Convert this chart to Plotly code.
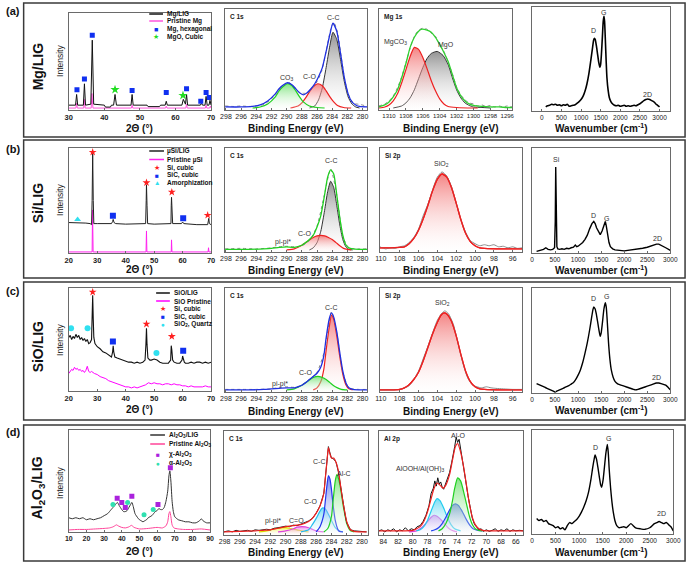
import plotly.graph_objects as go

W, H = 696, 564
def PX(x): return x / W
def PY(y): return 1 - y / H

# ======================= DATA =======================
# ---- tick labels ----
XRD_A_TICKS = [30, 40, 50, 60, 70]
XRD_BC_TICKS = [20, 30, 40, 50, 60, 70]
XRD_D_TICKS = [10, 20, 30, 40, 50, 60, 70, 80, 90]
C1S_TICKS = [298, 296, 294, 292, 290, 288, 286, 284, 282, 280]
MG1S_TICKS = [1310, 1308, 1306, 1304, 1302, 1300, 1298, 1296]
SI2P_TICKS = [110, 108, 106, 104, 102, 100, 98, 96]
AL2P_TICKS = [84, 82, 80, 78, 76, 74, 72, 70, 68, 66]
RAMAN_TICKS = [0, 500, 1000, 1500, 2000, 2500, 3000]

# ---- (a) Mg/LIG ----
A1_LIG = [(30, 5), (31.9, 5), (32.2, 16), (32.5, 5), (34.1, 5), (34.4, 27), (34.7, 5), (36.2, 6), (36.6, 72),
          (37.0, 6), (40.0, 5), (40.3, 3), (41.7, 3), (42.0, 5), (42.6, 5), (43.0, 16), (43.4, 5), (47.5, 5),
          (47.8, 16), (48.1, 5), (52.0, 5), (52.3, 3.5), (55.5, 3.5), (55.8, 5), (57.1, 5), (57.4, 9), (57.7, 5),
          (61.8, 5), (62.2, 11), (62.6, 6), (62.8, 6), (63.1, 16), (63.4, 5), (67.0, 5), (67.3, 7), (67.6, 5),
          (68.3, 5), (68.6, 14), (68.9, 5), (69.4, 5), (69.7, 10), (70.0, 5)]
A1_PRIS = [(30, 2), (32.0, 2), (32.2, 7), (32.4, 2), (34.2, 2), (34.4, 11), (34.6, 2), (36.3, 2), (36.5, 17),
           (36.8, 2), (47.6, 2), (47.8, 5), (48.0, 2), (57.2, 2), (57.4, 4), (57.6, 2), (62.9, 2), (63.1, 6),
           (63.3, 2), (68.4, 2), (68.6, 5), (68.8, 2), (69.6, 2), (69.8, 4), (70, 2)]
A1_MG_X = [32.3, 34.4, 36.6, 47.8, 57.4, 63.1, 67.1, 68.6, 69.5]
A1_MG_Y = [21, 32, 77, 20, 18, 22, 9, 18, 13]
A1_MGO_X = [43.0, 62.1]
A1_MGO_Y = [21, 15]

A2_CO3 = [(294.5, 2), (293.5, 3), (292.5, 6), (291.5, 13), (291, 19), (290.5, 23), (289.9, 26), (289.3, 24),
          (288.8, 19), (288.3, 13), (287.8, 8), (287, 4), (286, 2.5), (285, 2)]
A2_CO = [(289.5, 2), (288.5, 4), (288, 7), (287.5, 12), (287, 18), (286.5, 23), (285.9, 26), (285.3, 24),
         (284.8, 19), (284.3, 13), (283.8, 8), (283.3, 4.5), (282.5, 2.5), (281.5, 2)]
A2_CC = [(287, 2), (286.3, 4), (285.8, 10), (285.3, 22), (284.8, 42), (284.3, 64), (283.9, 77), (283.4, 70),
         (282.9, 50), (282.4, 28), (281.9, 13), (281.4, 6), (280.9, 3), (280.4, 2)]
A2_ENV = [(298.1, 3), (296, 3), (294.5, 3.5), (293.5, 5), (292.5, 9), (291.5, 16), (291, 21), (290.5, 24.5),
          (289.9, 27), (289.3, 25), (288.8, 21), (288.3, 17), (287.8, 15), (287.3, 17), (286.8, 21), (286.3, 26),
          (285.8, 33), (285.3, 42), (284.8, 58), (284.3, 75), (283.9, 86), (283.4, 78), (282.9, 56), (282.4, 32),
          (281.9, 16), (281.4, 8), (280.9, 5), (280.4, 3.5), (279.4, 3)]
A2_DATA = [(298.1, 4), (297, 3.5), (296, 4), (295, 3.5), (294, 4), (293, 5.5), (292, 11), (291, 20), (290.3, 25),
           (289.7, 27), (289, 23), (288.4, 18), (287.8, 16.5), (287.2, 17), (286.6, 22), (286, 28), (285.4, 38),
           (284.8, 58), (284.2, 80), (283.8, 87), (283.3, 77), (282.8, 52), (282.3, 28), (281.8, 14), (281.3, 8),
           (280.8, 6), (280.3, 5.5), (279.8, 4.5), (279.4, 4)]

A3_MGCO3 = [(1311.2, 2), (1310.5, 3), (1310, 5), (1309.5, 9), (1309, 16), (1308.5, 27), (1308, 40), (1307.5, 53),
            (1307, 62), (1306.5, 60), (1306, 52), (1305.5, 41), (1305, 29), (1304.5, 19), (1304, 11), (1303.5, 6),
            (1303, 3.5), (1302, 2.5), (1300, 2), (1299.5, 2)]
A3_MGO = [(1309.5, 2), (1308.5, 4), (1308, 7), (1307.5, 12), (1307, 20), (1306.5, 31), (1306, 42), (1305.5, 51),
          (1305, 56), (1304.3, 58), (1303.6, 54), (1303, 45), (1302.5, 32), (1302, 20), (1301.5, 12), (1301, 7),
          (1300.5, 4.5), (1300, 3), (1299, 2.5), (1298, 2)]
A3_ENV = [(1311.2, 3), (1310.5, 5), (1310, 8), (1309.5, 13), (1309, 20), (1308.5, 32), (1308, 46), (1307.5, 62),
          (1307, 72), (1306.5, 78), (1306.1, 80), (1305.5, 79), (1305, 77), (1304.5, 72), (1304, 65), (1303.5, 57),
          (1303, 48), (1302.5, 35), (1302, 22), (1301.5, 14), (1301, 9), (1300.5, 6), (1300, 4.5), (1299, 3.5),
          (1298, 3), (1297, 3), (1296, 2.5), (1295.4, 2.5)]
A3_DATA = [(1311.2, 4), (1310.5, 6), (1310, 9), (1309.5, 14), (1309, 22), (1308.5, 33), (1308, 47), (1307.5, 61),
           (1307, 73), (1306.5, 79), (1306, 81), (1305.5, 80), (1305, 76), (1304.5, 73), (1304, 64), (1303.5, 58),
           (1303, 47), (1302.5, 36), (1302, 23), (1301.5, 15), (1301, 10), (1300.5, 7), (1300, 6), (1299.5, 4),
           (1299, 5), (1298.5, 3.5), (1298, 4.5), (1297.5, 3), (1297, 4), (1296.5, 3), (1296, 4), (1295.4, 3)]

A4_RAMAN = [(100, 4), (150, 5), (200, 5.5), (250, 6.5), (300, 6), (350, 6.5), (400, 5.5), (450, 6), (500, 5),
            (550, 6), (600, 5.5), (650, 6.5), (700, 4.5), (750, 5), (800, 5.5), (850, 6), (900, 7.5), (950, 9),
            (1000, 11), (1050, 14), (1100, 19), (1150, 26), (1200, 36), (1250, 49), (1290, 60), (1320, 68),
            (1340, 70), (1360, 69), (1390, 63), (1420, 55), (1450, 47), (1480, 42), (1500, 45), (1520, 55),
            (1545, 72), (1565, 86), (1585, 91), (1600, 86), (1620, 68), (1640, 48), (1660, 32), (1690, 20),
            (1720, 13), (1760, 9), (1800, 7), (1850, 5.5), (1900, 5), (1950, 5.5), (2000, 4.5), (2050, 5),
            (2100, 5.5), (2150, 4.5), (2200, 5), (2250, 4.5), (2300, 5), (2350, 5.5), (2400, 5), (2450, 6),
            (2500, 7), (2550, 8.5), (2600, 10), (2650, 11), (2700, 11.5), (2750, 11), (2800, 10), (2850, 9),
            (2900, 7), (2950, 5.5), (3000, 4)]

# ---- (b) Si/LIG ----
B1_LIG = [(20, 29), (22, 29), (24, 28.5), (26, 28.5), (27.5, 28), (28.0, 27), (28.2, 50), (28.4, 95), (28.6, 50),
          (28.8, 28), (30, 28), (33, 28), (35, 28), (35.4, 30), (35.6, 32), (35.9, 29), (36.5, 28), (40, 27.5),
          (45, 27.5), (47.0, 28), (47.2, 50), (47.3, 65), (47.5, 45), (47.7, 28), (50, 27.5), (55, 27.5),
          (55.9, 28), (56.0, 45), (56.1, 53), (56.3, 40), (56.5, 28), (59.6, 28), (60, 29.5), (60.4, 28),
          (65, 27), (68.8, 27), (69.0, 31), (69.2, 33), (69.4, 28), (70, 27)]
B1_PRIS = [(20, 1), (28.2, 1), (28.35, 41), (28.55, 1), (47.15, 1), (47.3, 21), (47.45, 1), (56.0, 1),
           (56.1, 12.5), (56.25, 1), (68.95, 1), (69.1, 5), (69.25, 1), (70, 1)]
B1_SI_X = [28.4, 47.3, 56.2, 68.8]
B1_SI_Y = [96, 67, 58, 36]
B1_SIC_X = [35.5, 60.2]
B1_SIC_Y = [35.5, 33]
B1_AM_X = [23.1]
B1_AM_Y = [32]

B2_CC = [(287, 2), (286.5, 4), (286, 9), (285.5, 20), (285, 40), (284.6, 58), (284.2, 68), (283.8, 62),
         (283.4, 45), (283, 26), (282.6, 12), (282.2, 5), (281.8, 2.5), (281.3, 2)]
B2_CO = [(290, 2), (289, 3), (288.5, 4.5), (288, 6.5), (287.5, 9), (287, 11.5), (286.5, 14), (286, 15.5),
         (285.5, 16), (285, 15.5), (284.5, 14), (284, 12), (283.5, 9), (283, 6), (282.5, 3.5), (282, 2.5),
         (281.5, 2)]
B2_ENV = [(298.1, 2.5), (295, 2.5), (293, 3), (292, 3.5), (291, 4.5), (290, 5), (289, 4.5), (288, 6.5),
          (287.5, 9), (287, 12), (286.5, 16), (286, 24), (285.5, 35), (285, 55), (284.6, 72), (284.2, 79),
          (283.8, 75), (283.4, 55), (283, 33), (282.6, 16), (282.2, 7), (281.8, 4), (281.3, 3), (280.5, 2.5),
          (279.4, 2.5)]
B2_DATA = [(298.1, 3), (296, 3.5), (294, 3), (292, 4), (291, 5), (290, 5.5), (289, 5), (288, 6), (287, 11),
           (286, 25), (285, 56), (284.2, 80), (283.4, 55), (282.6, 15), (281.8, 4), (280.5, 3), (279.4, 3)]

B3_SIO2 = [(110.1, 4), (109, 4), (108, 4.5), (107.5, 5), (107, 8), (106.5, 13), (106, 21), (105.5, 32),
           (105, 45), (104.5, 59), (104, 70), (103.5, 75), (103, 72), (102.5, 62), (102, 47), (101.5, 31),
           (101, 18), (100.5, 10), (100, 6), (99.5, 4), (99, 3.5), (97, 3), (95, 3)]
B3_DATA = [(110.1, 5), (109.5, 3), (109, 4), (108.5, 3.5), (108, 5), (107.5, 6), (107, 9), (106.5, 14),
           (106, 22), (105.5, 35), (105, 46), (104.5, 60), (104, 72), (103.5, 77), (103, 73), (102.5, 63),
           (102, 47), (101.5, 31), (101, 19), (100.5, 11), (100, 8), (99.5, 6), (99, 7), (98.5, 6), (98, 7),
           (97.5, 5), (97, 5.5), (96.5, 4), (96, 5), (95.5, 3.5), (95, 4)]

B4_RAMAN = [(100, 1.5), (150, 2), (200, 2.5), (250, 3.5), (300, 5), (350, 3.5), (400, 3), (450, 3.5), (490, 5),
            (505, 30), (515, 82), (525, 35), (540, 6), (560, 4), (600, 3.5), (650, 4), (700, 3.5), (750, 4.5),
            (800, 4), (850, 5), (900, 5.5), (940, 7.5), (970, 6), (1000, 6.5), (1050, 8), (1100, 10),
            (1150, 13), (1200, 17), (1250, 23), (1300, 28), (1340, 30), (1370, 28), (1400, 24), (1440, 20),
            (1480, 17.5), (1520, 21), (1560, 27), (1590, 30), (1610, 26), (1640, 17), (1670, 10), (1700, 6),
            (1750, 4), (1800, 3), (1850, 3), (1900, 2.5), (2000, 2), (2100, 2.5), (2200, 3), (2300, 3.5),
            (2400, 4.5), (2500, 5.5), (2600, 7), (2700, 8.5), (2750, 8.5), (2800, 7.5), (2900, 5), (3000, 2.5)]

# ---- (c) SiO/LIG ----
C1_LIG = [(20, 52), (20.5, 54), (21, 50), (21.5, 53), (22, 51), (22.5, 55), (23, 52), (23.5, 54), (24, 50),
          (24.5, 52), (25, 49), (25.5, 51), (26, 48), (26.5, 50), (27, 46), (27.5, 47), (28, 50), (28.2, 70),
          (28.4, 93), (28.6, 70), (28.8, 52), (29.2, 46), (30, 43), (31, 41), (32, 38), (33, 37), (34, 35),
          (35, 33), (35.4, 38), (35.6, 44), (35.8, 38), (36.2, 33), (37, 32), (38, 31), (39, 30), (40, 29),
          (41, 28), (42, 28), (43, 27), (44, 28), (45, 27), (46, 28), (46.8, 30), (47.1, 45), (47.3, 61),
          (47.5, 45), (47.8, 32), (48.5, 30), (49, 30), (50, 31), (51, 30), (52, 28), (53, 27), (54, 27),
          (55, 27), (55.8, 30), (56.0, 44), (56.2, 40), (56.5, 30), (57, 28), (58, 27), (59, 27), (59.8, 30),
          (60, 34), (60.2, 32), (60.6, 28), (61, 27), (62, 27), (63, 28), (64, 27), (65, 28), (66, 28),
          (67, 27), (68, 28), (69, 27), (70, 28)]
C1_PRIS = [(20, 17), (20.5, 19), (21, 21), (21.5, 20), (22, 23), (22.5, 21), (23, 22), (23.5, 20), (24, 21),
           (24.5, 19), (25, 20), (25.5, 18), (26, 20), (26.5, 24), (27, 19), (27.5, 18), (28, 19), (29, 17),
           (30, 16), (31, 14), (32, 13), (33, 12), (34, 10), (35, 9), (36, 8), (37, 7), (38, 6), (39, 5),
           (40, 4), (41, 4), (42, 3), (43, 4), (44, 3), (45, 4), (46, 5), (47, 6), (48, 8), (49, 7), (50, 8),
           (51, 7), (52, 7), (53, 6), (54, 7), (55, 7), (56, 6), (57, 7), (58, 6), (59, 6), (60, 5), (61, 5),
           (62, 4), (63, 5), (64, 4), (65, 4), (66, 4), (67, 4), (68, 5), (69, 4), (70, 4)]
C1_SI_X = [28.4, 47.3, 56.2]
C1_SI_Y = [96, 65, 53]
C1_SIC_X = [35.5, 60.2]
C1_SIC_Y = [48, 39]
C1_QZ_X = [20.8, 26.6, 50.8]
C1_QZ_Y = [61, 61, 37]

C2_CC = [(286.5, 2), (286, 4), (285.5, 10), (285.1, 22), (284.8, 40), (284.4, 62), (284.1, 74), (283.8, 70),
         (283.4, 54), (283, 34), (282.6, 17), (282.2, 7), (281.8, 3), (281.3, 2)]
C2_CO = [(290, 2), (289, 3), (288.5, 4.5), (288, 6.5), (287.5, 9), (287, 11.5), (286.5, 14), (285.9, 15),
         (285.3, 14), (284.8, 12), (284.3, 9), (283.8, 6), (283.3, 4), (282.8, 2.5), (282, 2)]
C2_ENV = [(298.1, 2), (295, 2), (293, 2.5), (292, 3), (291, 3.5), (290, 4), (289, 4), (288, 6.5), (287.5, 9),
          (287, 12), (286.5, 15), (286, 18), (285.5, 24), (285.1, 35), (284.8, 52), (284.4, 70), (284.1, 76),
          (283.8, 72), (283.4, 58), (283, 38), (282.6, 20), (282.2, 9), (281.8, 4), (281.3, 2.5), (280, 2),
          (279.4, 2)]
C2_DATA = [(298.1, 2.5), (296, 2.5), (294, 2.5), (292, 3), (291, 4.5), (290, 5), (289, 4.5), (288, 6.5),
           (287, 12), (286, 19), (285, 40), (284.1, 77), (283.4, 57), (282.6, 19), (281.8, 4), (280.5, 2.5),
           (279.4, 2.5)]

C3_SIO2 = [(110.1, 2), (109, 2), (108, 2.5), (107.5, 4), (107, 7), (106.5, 12), (106, 19), (105.5, 30),
           (105, 43), (104.5, 56), (104, 67), (103.6, 74), (103.3, 76), (103, 75), (102.5, 68), (102, 54),
           (101.5, 36), (101, 20), (100.5, 10), (100, 5), (99.5, 3), (99, 2.5), (97, 2), (95, 2)]
C3_DATA = [(110.1, 2), (108, 2.5), (107, 6), (106, 20), (105.5, 32), (105, 44), (104.5, 57), (104, 69),
           (103.5, 76), (103.2, 78), (102.8, 75), (102.3, 65), (101.8, 47), (101.3, 28), (100.8, 14),
           (100.3, 7), (99.8, 5), (99.3, 4), (98.8, 5), (98.3, 4), (97.8, 3.5), (97, 3), (96, 2.5), (95, 2.5)]

C4_RAMAN = [(100, 9), (150, 8), (200, 7), (250, 6), (300, 5), (350, 4), (400, 3), (450, 2), (500, 1), (550, 2),
            (600, 3), (650, 4), (700, 5), (750, 6), (800, 7), (850, 8.5), (900, 10), (950, 13), (1000, 17),
            (1050, 22), (1100, 29), (1150, 38), (1200, 48), (1250, 60), (1290, 71), (1320, 79), (1340, 82),
            (1370, 80), (1400, 74), (1430, 66), (1460, 58), (1480, 54), (1500, 57), (1530, 68), (1560, 80),
            (1590, 86), (1610, 82), (1630, 70), (1660, 48), (1690, 32), (1720, 22), (1760, 15), (1800, 11),
            (1850, 9), (1900, 8), (2000, 6.5), (2100, 5), (2200, 3.5), (2250, 3), (2300, 3.5), (2400, 5),
            (2500, 6.5), (2600, 8), (2700, 9.5), (2750, 9.5), (2800, 9), (2900, 7.5), (2950, 5.5), (3000, 3)]

# ---- (d) Al2O3/LIG ----
D1_LIG = [(10, 14), (12, 13), (14, 14), (16, 13), (18, 14), (20, 12), (22, 13), (24, 12), (26, 13), (28, 14),
          (30, 16), (32, 18), (34, 22), (35, 24), (36, 26), (37.5, 29), (38.5, 26), (40, 22), (41, 20), (42, 20),
          (43, 21), (44, 24), (45, 27), (45.7, 29), (46.5, 25), (47.5, 18), (49, 14), (50, 12), (51, 11),
          (52, 10), (53, 11), (54, 12), (55, 14), (56, 15), (57, 16), (58, 18), (59, 20), (60, 21), (61, 23),
          (62, 22), (63, 22), (64, 24), (65, 30), (66, 40), (66.7, 55), (67.2, 60), (67.8, 50), (68.5, 30),
          (69.2, 20), (70, 15), (72, 12), (74, 11), (76, 10), (78, 10), (80, 9), (82, 9), (84, 11), (85, 13),
          (86, 11), (88, 9), (90, 9)]
D1_PRIS = [(10, 2), (15, 2.5), (20, 2.5), (25, 3), (30, 3.5), (33, 4), (35, 5), (36, 6), (37, 7), (38, 6),
           (40, 4.5), (42, 4), (44, 5), (45.5, 6.5), (47, 4.5), (50, 3), (55, 3.5), (60, 4.5), (63, 4), (65, 6),
           (66, 10), (66.7, 18), (67.2, 20), (67.8, 15), (68.5, 7), (69.5, 4), (72, 3), (75, 2.5), (80, 2.5),
           (85, 3), (90, 2)]
D1_CHI_X = [37.4, 40.0, 42.0, 45.7, 60.5, 67.5]
D1_CHI_Y = [33, 29, 24, 35, 27, 63]
D1_ALPHA_X = [35.0, 43.3, 52.6, 57.8]
D1_ALPHA_Y = [27, 29, 17, 22]

D2_CC = [(286, 3), (285.5, 8), (285, 20), (284.8, 33), (284.6, 47), (284.4, 57), (284.2, 54), (284, 44),
         (283.8, 30), (283.5, 14), (283.2, 6), (283, 3.5), (282.5, 3)]
D2_ALC = [(285, 3), (284.5, 6), (284, 18), (283.8, 32), (283.5, 52), (283.3, 58), (283, 52), (282.7, 40),
          (282.5, 30), (282.2, 18), (282, 11), (281.5, 4), (281, 3)]
D2_CO = [(288, 3), (287, 5), (286.5, 10), (286, 16), (285.5, 23), (285.2, 26), (284.8, 25), (284.4, 20),
         (284, 14), (283.5, 7), (283, 4), (282.5, 3)]
D2_CEO = [(291, 3), (290, 4), (289, 6), (288.5, 7.5), (287.8, 8), (287, 7), (286.5, 5.5), (286, 4), (285, 3)]
D2_PI = [(293.5, 3), (292.5, 4), (291.5, 6), (290.5, 7), (290, 7), (289.5, 6.5), (288.5, 5), (287.5, 3.5),
         (287, 3)]
D2_ENV = [(298.1, 3), (296, 3.5), (294, 4), (293, 4.5), (292, 5), (291, 6.5), (290, 8), (289, 9), (288, 10),
          (287, 13), (286.5, 16), (286, 21), (285.5, 28), (285, 40), (284.8, 55), (284.6, 70), (284.4, 84),
          (284.2, 78), (284, 74), (283.7, 74), (283.4, 70), (283.1, 62), (282.8, 47), (282.5, 32), (282.2, 20),
          (282, 13), (281.5, 5), (281, 3.5), (280, 3), (279.4, 3)]
D2_DATA = [(298.1, 3), (297.5, 4), (297, 3), (296.5, 4.5), (296, 3.5), (295.5, 4), (295, 4.5), (294.5, 3.5),
           (294, 5), (293.5, 4.5), (293, 5), (292.5, 5.5), (292, 5), (291.5, 6.5), (291, 7), (290.5, 7.5),
           (290, 8.5), (289.5, 8), (289, 9.5), (288.5, 9), (288, 10.5), (287.5, 12), (287, 13.5), (286.5, 16),
           (286, 21), (285.5, 28), (285, 40), (284.8, 55), (284.6, 70), (284.4, 85), (284.2, 79), (284, 74),
           (283.7, 73), (283.4, 70), (283.1, 61), (282.8, 46), (282.5, 31), (282.2, 19), (282, 12), (281.5, 5),
           (281, 4), (280.5, 3.5), (280, 3), (279.4, 3)]

D3_MAG = [(80.5, 3), (79.5, 4), (79, 6), (78.5, 9), (78, 13), (77.5, 17), (77.1, 19), (76.7, 18), (76.2, 15),
          (75.7, 11), (75.2, 7), (74.7, 4.5), (74, 3)]
D3_CYAN = [(79.5, 4), (79, 5), (78.5, 8), (78, 14), (77.5, 23), (77, 32), (76.7, 35), (76.3, 33), (75.8, 26),
           (75.3, 17), (74.8, 10), (74.3, 6), (73.5, 4)]
D3_BLUE = [(77.5, 4), (77, 5), (76.5, 7), (76, 11), (75.5, 17), (75, 24), (74.6, 28.5), (74.2, 30),
           (73.8, 28.5), (73.3, 23), (72.8, 16), (72.3, 10), (71.8, 6), (71.2, 4.5), (70.5, 4)]
D3_GREEN = [(76.5, 4), (76, 6), (75.5, 11), (75, 20), (74.6, 33), (74.3, 45), (73.9, 55), (73.5, 52),
            (73.1, 42), (72.7, 30), (72.3, 18), (71.9, 10), (71.5, 6), (71, 4.5), (70.5, 4)]
D3_ENV = [(84.6, 4), (82, 4), (80, 4.5), (79.5, 6), (79, 8), (78.5, 13), (78, 22), (77.5, 35), (77.1, 45),
          (76.7, 50), (76.3, 48), (75.9, 45), (75.5, 48), (75, 58), (74.6, 72), (74.2, 85), (73.9, 88),
          (73.5, 80), (73.1, 66), (72.7, 48), (72.3, 30), (71.9, 17), (71.5, 10), (71, 6), (70.5, 4.5), (70, 4),
          (65, 4)]
D3_DATA = [(84.6, 4), (84.2, 5), (83.8, 3), (83.4, 5), (83, 4), (82.6, 6), (82.2, 3), (81.8, 5), (81.4, 4),
           (81, 7), (80.6, 4), (80.2, 6), (79.8, 5), (79.4, 8), (79, 9), (78.6, 13), (78.2, 19), (77.8, 28),
           (77.5, 40), (77.2, 45), (77, 52), (76.8, 47), (76.6, 55), (76.4, 49), (76.2, 51), (76, 46),
           (75.8, 44), (75.5, 50), (75.2, 55), (75, 60), (74.7, 70), (74.5, 80), (74.3, 85), (74.1, 94),
           (73.9, 89), (73.7, 92), (73.4, 80), (73.1, 68), (72.8, 52), (72.5, 38), (72.2, 26), (71.9, 16),
           (71.6, 10), (71.3, 7), (71, 5), (70.7, 6), (70.4, 3.5), (70, 5), (69.6, 3.5), (69.2, 4.5), (68.8, 6),
           (68.4, 3.5), (68, 5), (67.6, 4), (67.2, 6), (66.8, 3.5), (66.4, 5), (66, 4), (65.5, 4.5), (65, 4)]

D4_RAMAN = [(100, 15), (150, 13), (200, 14), (250, 12), (300, 13), (350, 10), (400, 9), (450, 8), (500, 6),
            (550, 7), (600, 5), (650, 6), (700, 4), (750, 8), (800, 11), (850, 10), (900, 12), (950, 14),
            (1000, 17), (1050, 21), (1100, 26), (1150, 32), (1200, 40), (1250, 52), (1290, 64), (1320, 72),
            (1340, 76), (1370, 72), (1400, 64), (1430, 55), (1460, 47), (1480, 45), (1510, 52), (1540, 65),
            (1570, 78), (1600, 86), (1620, 78), (1640, 62), (1670, 44), (1700, 30), (1730, 20), (1760, 13),
            (1800, 8), (1850, 6), (1900, 6.5), (1950, 7), (2000, 6), (2050, 8), (2100, 10), (2150, 8),
            (2200, 6), (2300, 5), (2400, 4.5), (2500, 6), (2600, 10), (2650, 11), (2700, 12), (2750, 11),
            (2800, 10), (2850, 11), (2900, 9), (2950, 7), (3000, 3)]

# ======================= FIGURE =======================
FONT = "Liberation Sans, Arial, sans-serif"
fig = go.Figure()
shapes, annos = [], []

def ids(n):
    return ("x" if n == 1 else f"x{n}"), ("y" if n == 1 else f"y{n}")

def add_panel(n, l, t, r, b, xr, ticks, tfs=7, bold=False):
    xa = "xaxis" if n == 1 else f"xaxis{n}"
    ya = "yaxis" if n == 1 else f"yaxis{n}"
    xn, yn = ids(n)
    fig.layout[xa] = dict(domain=[PX(l), PX(r)], anchor=yn, range=xr, tickvals=ticks, ticktext=[str(v) for v in ticks],
                          showline=True, mirror=True, linecolor="#6a6a6a", linewidth=1, ticks="inside", ticklen=2.5,
                          tickcolor="#6a6a6a", tickangle=0, showgrid=False, zeroline=False,
                          tickfont=dict(family=FONT, size=tfs, color="#222", weight="bold" if bold else "normal"))
    fig.layout[ya] = dict(domain=[PY(b), PY(t)], anchor=xn, range=[0, 100], showline=True, mirror=True,
                          linecolor="#6a6a6a", linewidth=1, ticks="", showticklabels=False, showgrid=False,
                          zeroline=False)

def line(n, pts, color, width=1.0, dash="solid", grad=None, spline=True):
    xn, yn = ids(n)
    kw = {}
    if grad:
        kw = dict(fill="tozeroy", fillgradient=dict(type="vertical",
                                                    colorscale=[[0, "rgba(255,255,255,0.15)"], [1, grad]]))
    fig.add_trace(go.Scatter(x=[p[0] for p in pts], y=[p[1] for p in pts], mode="lines", xaxis=xn, yaxis=yn,
                             line=dict(color=color, width=width, dash=dash,
                                       shape="spline" if spline else "linear", smoothing=0.6),
                             showlegend=False, hoverinfo="skip", **kw))

def marks(n, xs, ys, symbol, color, size):
    xn, yn = ids(n)
    fig.add_trace(go.Scatter(x=xs, y=ys, mode="markers", xaxis=xn, yaxis=yn, showlegend=False, hoverinfo="skip",
                             marker=dict(symbol=symbol, color=color, size=size, line=dict(width=0))))

def label(n, x, y, text, size=7, bold=False, color="#333"):
    xn, yn = ids(n)
    annos.append(dict(x=x, y=y, xref=xn, yref=yn, text=text, showarrow=False,
                      font=dict(family=FONT, size=size, color=color, weight="bold" if bold else "normal")))

def ptext(x, y, text, size=7, bold=False, angle=0, xanchor="center", color="#111"):
    annos.append(dict(x=PX(x), y=PY(y), xref="paper", yref="paper", text=text, showarrow=False, textangle=angle,
                      xanchor=xanchor, yanchor="middle",
                      font=dict(family=FONT, size=size, color=color, weight="bold" if bold else "normal")))

def corner(n, text):
    xn, yn = ids(n)
    annos.append(dict(x=0.02, y=0.98, xref=f"{xn} domain", yref=f"{yn} domain", text=text, showarrow=False,
                      xanchor="left", yanchor="top",
                      font=dict(family=FONT, size=6.5, color="#222", weight="bold")))

def leg_line(x0, x1, y, color, text, tx, width=1.5):
    shapes.append(dict(type="line", xref="paper", yref="paper", x0=PX(x0), x1=PX(x1), y0=PY(y), y1=PY(y),
                       line=dict(color=color, width=width)))
    ptext(tx, y, text, size=6.5, bold=True, xanchor="left")

def leg_glyph(xc, y, glyph, color, gsize, text, tx):
    ptext(xc, y, glyph, size=gsize, color=color)
    ptext(tx, y, text, size=6.5, bold=True, xanchor="left")

RED_F = "rgba(240,90,90,0.75)"
GRAY_F = "rgba(120,120,120,0.8)"
GREEN_F = "rgba(90,220,90,0.75)"
CYAN_F = "rgba(80,210,240,0.75)"
BLUE_F = "rgba(70,90,230,0.75)"
MAG_F = "rgba(230,100,230,0.7)"

# ---------- row boxes ----------
for (t, b) in [(3, 137), (140, 278), (282, 420), (425, 561)]:
    shapes.append(dict(type="rect", xref="paper", yref="paper", x0=PX(19), x1=PX(693), y0=PY(b), y1=PY(t),
                       line=dict(color="#3a3a3a", width=1.5)))

# ---------- Row (a) ----------
add_panel(1, 65, 13, 210, 110, [30, 70], XRD_A_TICKS, tfs=7.5, bold=True)
line(1, A1_PRIS, "#ff55dd", 1.0, spline=False)
line(1, A1_LIG, "#111111", 1.0, spline=False)
marks(1, A1_MG_X, A1_MG_Y, "square", "#1030f0", 5)
marks(1, A1_MGO_X, A1_MGO_Y, "star", "#22dd22", 7)

add_panel(2, 224, 9, 369, 110, [298.15, 279.4], C1S_TICKS, tfs=7)
line(2, A2_CC, "#333333", 1.0, grad=GRAY_F)
line(2, A2_CO, "#ee2020", 1.2, grad=RED_F)
line(2, A2_CO3, "#20d020", 1.2, grad=GREEN_F)
line(2, A2_DATA, "#8a8a8a", 1.0, dash="dot")
line(2, A2_ENV, "#1f2fe0", 1.3)
corner(2, "C 1s")
label(2, 289.9, 32, "CO<sub>3</sub>")
label(2, 287.0, 33, "C-O")
label(2, 283.9, 92, "C-C")

add_panel(3, 381, 9, 517, 110, [1311.2, 1295.4], MG1S_TICKS, tfs=6)
line(3, A3_MGO, "#333333", 1.0, grad=GRAY_F)
line(3, A3_MGCO3, "#ee2020", 1.2, grad=RED_F)
line(3, A3_DATA, "#8a8a8a", 1.0, dash="dot")
line(3, A3_ENV, "#30d030", 1.3)
corner(3, "Mg 1s")
label(3, 1309.2, 67, "MgCO<sub>3</sub>")
label(3, 1303.2, 64, "MgO")

add_panel(4, 537, 7, 678, 111, [-250, 3275], RAMAN_TICKS, tfs=6.5)
line(4, A4_RAMAN, "#000000", 1.6)
label(4, 1330, 77, "D")
label(4, 1585, 95, "G")
label(4, 2700, 16, "2D")

leg_line(147, 161, 14, "#111111", "Mg/LIG", 163)
leg_line(147, 161, 21, "#ff55dd", "Pristine Mg", 163)
leg_glyph(154, 29, "■", "#1030f0", 7, "Mg, hexagonal", 163)
leg_glyph(154, 37, "★", "#22dd22", 7, "MgO, Cubic", 163)

# ---------- Row (b) ----------
add_panel(5, 65, 148, 210, 253, [20, 70], XRD_BC_TICKS, tfs=7.5, bold=True)
line(5, B1_PRIS, "#ff22ee", 1.0, spline=False)
line(5, B1_LIG, "#222222", 1.0, spline=False)
marks(5, B1_SI_X, B1_SI_Y, "star", "#ff2020", 6)
marks(5, B1_SIC_X, B1_SIC_Y, "square", "#1030f0", 6)
marks(5, B1_AM_X, B1_AM_Y, "triangle-up", "#30e0f0", 6)

add_panel(6, 224, 148, 369, 252, [298.15, 279.4], C1S_TICKS, tfs=7)
line(6, B2_CC, "#333333", 1.0, grad=GRAY_F)
line(6, B2_CO, "#ee2020", 1.2, grad=RED_F)
line(6, B2_DATA, "#8a8a8a", 1.0, dash="dot")
line(6, B2_ENV, "#20d020", 1.3)
corner(6, "C 1s")
label(6, 284.2, 88, "C-C")
label(6, 287.6, 18, "C-O")
label(6, 290.5, 10, "pi-pi*")

add_panel(7, 382, 148, 527, 252, [110.1, 95], SI2P_TICKS, tfs=7)
line(7, B3_SIO2, "#ee2020", 1.3, grad=RED_F)
line(7, B3_DATA, "#8a8a8a", 1.0)
line(7, B3_SIO2, "#ee2020", 1.3)
corner(7, "Si 2p")
label(7, 103.6, 85, "SiO<sub>2</sub>")

add_panel(8, 537, 148, 678, 253, [0, 3000], RAMAN_TICKS, tfs=6.5)
line(8, B4_RAMAN, "#000000", 1.4, spline=False)
label(8, 530, 89, "Si")
label(8, 1340, 36, "D")
label(8, 1607, 33, "G")
label(8, 2720, 14, "2D")

leg_line(147, 162, 151, "#222222", "µSi/LIG", 163)
leg_line(147, 162, 159.5, "#ff22ee", "Pristine µSi", 163)
leg_glyph(154.5, 167.5, "★", "#ff2020", 6.5, "Si, cubic", 163)
leg_glyph(154.5, 175, "■", "#1030f0", 6.5, "SiC, cubic", 163)
leg_glyph(154.5, 182.5, "▲", "#30e0f0", 6.5, "Amorphization", 163)

# ---------- Row (c) ----------
add_panel(9, 65, 288, 210, 391, [20, 70], XRD_BC_TICKS, tfs=7.5, bold=True)
line(9, C1_PRIS, "#ff00ff", 1.0, spline=False)
line(9, C1_LIG, "#111111", 1.1, spline=False)
marks(9, C1_SI_X, C1_SI_Y, "star", "#ff2020", 6)
marks(9, C1_SIC_X, C1_SIC_Y, "square", "#1030f0", 6)
marks(9, C1_QZ_X, C1_QZ_Y, "circle", "#30e0f0", 6)

add_panel(10, 224, 288, 369, 392, [298.15, 279.4], C1S_TICKS, tfs=7)
line(10, C2_CC, "#ee2020", 1.2, grad=RED_F)
line(10, C2_CO, "#20d020", 1.2, grad=GREEN_F)
line(10, C2_DATA, "#8a8a8a", 1.0, dash="dot")
line(10, C2_ENV, "#1f2fe0", 1.3)
corner(10, "C 1s")
label(10, 284.1, 81, "C-C")
label(10, 287.5, 19, "C-O")
label(10, 290.9, 8, "pi-pi*")

add_panel(11, 382, 288, 527, 392, [110.1, 95], SI2P_TICKS, tfs=7)
line(11, C3_SIO2, "#ee2020", 1.3, grad=RED_F)
line(11, C3_DATA, "#8a8a8a", 1.0)
line(11, C3_SIO2, "#ee2020", 1.3)
corner(11, "Si 2p")
label(11, 103.5, 86, "SiO<sub>2</sub>")

add_panel(12, 537, 288, 678, 393, [0, 3000], RAMAN_TICKS, tfs=6.5)
line(12, C4_RAMAN, "#000000", 1.4)
label(12, 1340, 90, "D")
label(12, 1614, 92, "G")
label(12, 2700, 15, "2D")

leg_line(154, 168, 293, "#111111", "SiO/LIG", 170)
leg_line(154, 168, 301, "#ff00ff", "SiO Pristine", 170)
leg_glyph(161, 308.5, "★", "#ff2020", 6.5, "Si, cubic", 170)
leg_glyph(161, 316.5, "■", "#1030f0", 6.5, "SiC, cubic", 170)
leg_glyph(161, 324, "●", "#30e0f0", 6.5, "SiO<sub>2</sub>, Quartz", 170)

# ---------- Row (d) ----------
add_panel(13, 65, 430, 209, 532, [10, 90], XRD_D_TICKS, tfs=7, bold=True)
line(13, D1_PRIS, "#ff4499", 1.0)
line(13, D1_LIG, "#333333", 1.0)
marks(13, D1_CHI_X, D1_CHI_Y, "square", "#aa22dd", 5)
marks(13, D1_ALPHA_X, D1_ALPHA_Y, "circle", "#30e0b0", 5)

add_panel(14, 223, 431, 370, 535, [298.1, 279.2], C1S_TICKS, tfs=7)
line(14, D2_PI, "#dddd00", 1.2, grad="rgba(240,240,60,0.8)")
line(14, D2_CEO, "#dd44dd", 1.2, grad=MAG_F)
line(14, D2_CO, "#22bbee", 1.2, grad=CYAN_F)
line(14, D2_CC, "#2233ee", 1.2, grad=BLUE_F)
line(14, D2_ALC, "#20d020", 1.2, grad=GREEN_F)
line(14, D2_DATA, "#222222", 1.0, spline=False)
line(14, D2_ENV, "#ee2020", 1.2)
corner(14, "C 1s")
label(14, 291.6, 13, "pi-pi*")
label(14, 288.6, 14, "C=O")
label(14, 286.8, 32, "C-O")
label(14, 285.6, 71, "C-C")
label(14, 282.4, 59, "Al-C")

add_panel(15, 381, 431, 528, 535, [84.6, 65], AL2P_TICKS, tfs=7)
line(15, D3_MAG, "#dd44dd", 1.2, grad=MAG_F)
line(15, D3_CYAN, "#22ccee", 1.2, grad=CYAN_F)
line(15, D3_BLUE, "#2244ee", 1.2, grad=BLUE_F)
line(15, D3_GREEN, "#20d020", 1.2, grad=GREEN_F)
line(15, D3_DATA, "#111111", 1.0, spline=False)
line(15, D3_ENV, "#ee2020", 1.2)
corner(15, "Al 2p")
label(15, 79.0, 63, "AlOOH/Al(OH)<sub>3</sub>")
label(15, 73.8, 96, "Al-O")

add_panel(16, 537, 430, 681, 534, [0, 3000], RAMAN_TICKS, tfs=6.5)
line(16, D4_RAMAN, "#000000", 1.4)
label(16, 1350, 83, "D")
label(16, 1620, 92, "G")
label(16, 2760, 20, "2D")

leg_line(148, 163, 435, "#333333", "Al<sub>2</sub>O<sub>3</sub>/LIG", 165)
leg_line(148, 163, 444, "#ff4499", "Pristine Al<sub>2</sub>O<sub>3</sub>", 165)
leg_glyph(155.5, 454, "■", "#aa22dd", 6.5, "χ-Al<sub>2</sub>O<sub>3</sub>", 165)
leg_glyph(155.5, 463, "●", "#30e0b0", 6.5, "α-Al<sub>2</sub>O<sub>3</sub>", 165)

# ---------- outer texts ----------
for (lab, y) in [("(a)", 11), ("(b)", 149), ("(c)", 291), ("(d)", 432)]:
    ptext(8, y, lab, size=11, bold=True)
for (lab, y) in [("Mg/LIG", 66), ("Si/LIG", 203), ("SiO/LIG", 347), ("Al<sub>2</sub>O<sub>3</sub>/LIG", 488)]:
    ptext(34, y, lab, size=14, bold=True, angle=-90)
for y in [61, 200, 340, 483]:
    ptext(56, y, "Intensity", size=8.5, angle=-90, color="#222")
# axis titles
for (y_x, y_b, y_r) in [(128, 129, 128), (269, 270, 270), (409, 411, 410), (551, 552, 552)]:
    ptext(137.5, y_x, "2Θ (°)", size=10, bold=True)
    ptext(296.5, y_b, "Binding Energy (eV)", size=10, bold=True)
    ptext(454, y_b, "Binding Energy (eV)", size=10, bold=True)
    ptext(608, y_r, "Wavenumber (cm<sup>-1</sup>)", size=10, bold=True)

fig.update_layout(width=W, height=H, margin=dict(l=0, r=0, t=0, b=0), paper_bgcolor="white",
                  plot_bgcolor="white", showlegend=False, shapes=shapes, annotations=annos,
                  font=dict(family=FONT))
fig.write_html("out.html")
